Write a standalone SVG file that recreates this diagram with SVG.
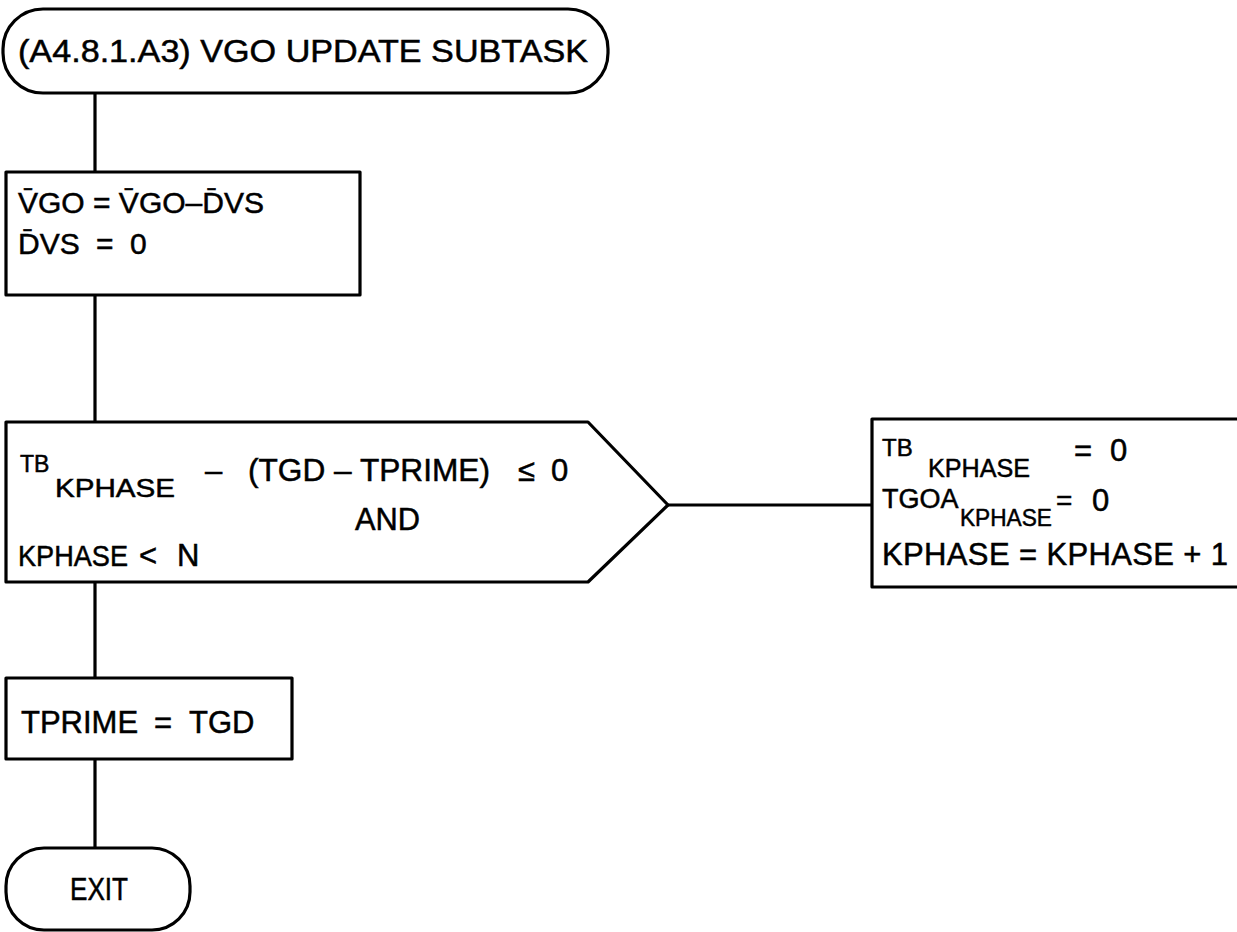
<svg xmlns="http://www.w3.org/2000/svg" width="1237" height="932" viewBox="0 0 1237 932">
<style>
.s{fill:none;stroke:#000;stroke-width:3.2;stroke-linejoin:round}
.t{font-family:"Liberation Sans",Arial,sans-serif;font-size:31px;fill:#000;stroke:#000;stroke-width:0.5}
.sub{font-size:26px}
</style>
<rect width="1237" height="932" fill="#fff"/>
<g id="connectors">
<path class="s" d="M95 93V172M95 295V422M95 582V678M95 759V848M668 505H872"/>
</g>
<g id="start">
<rect class="s" x="3" y="9" width="605" height="84" rx="40"/>
<text class="t" x="18" y="62" textLength="570" lengthAdjust="spacingAndGlyphs">(A4.8.1.A3)  VGO UPDATE SUBTASK</text>
</g>
<g id="box1">
<rect class="s" x="6" y="172" width="354" height="123"/>
<text class="t" x="18" y="213" style="font-size:30px">V̄GO = V̄GO–D̄VS</text>
<text class="t" x="18" y="254" style="font-size:30px">D̄VS</text>
<text class="t" x="96" y="254" style="font-size:30px">=</text>
<text class="t" x="130" y="254" style="font-size:30px">0</text>
</g>
<g id="decision">
<polygon class="s" points="6,422 588,422 668,505 588,582 6,582"/>
<text class="t" x="20" y="472" style="font-size:23px">TB</text>
<text class="t sub" x="55" y="497" textLength="120" lengthAdjust="spacingAndGlyphs">KPHASE</text>
<text class="t" x="205" y="481">–</text>
<text class="t" x="248" y="481" textLength="242" lengthAdjust="spacingAndGlyphs">(TGD – TPRIME)</text>
<text class="t" x="518" y="481">≤</text>
<text class="t" x="551" y="481">0</text>
<text class="t" x="355" y="530" textLength="65" lengthAdjust="spacingAndGlyphs">AND</text>
<text class="t" x="18" y="566" style="font-size:30px" textLength="110" lengthAdjust="spacingAndGlyphs">KPHASE</text>
<text class="t" x="139" y="566">&lt;</text>
<text class="t" x="177" y="566">N</text>
</g>
<g id="box2">
<rect class="s" x="872" y="419" width="370" height="168"/>
<text class="t" x="882" y="456" style="font-size:24px">TB</text>
<text class="t sub" x="928" y="477" textLength="102" lengthAdjust="spacingAndGlyphs">KPHASE</text>
<text class="t" x="1074" y="461">=</text>
<text class="t" x="1110" y="461">0</text>
<text class="t" x="882" y="508" style="font-size:27px">TGOA</text>
<text class="t" x="960" y="526" style="font-size:24px" textLength="92" lengthAdjust="spacingAndGlyphs">KPHASE</text>
<text class="t" x="1056" y="510" style="font-size:28px">=</text>
<text class="t" x="1092" y="511">0</text>
<text class="t" x="882" y="565" textLength="346" lengthAdjust="spacing">KPHASE = KPHASE + 1</text>
</g>
<g id="box3">
<rect class="s" x="6" y="678" width="286" height="81"/>
<text class="t" x="21" y="733">TPRIME</text>
<text class="t" x="154" y="733">=</text>
<text class="t" x="189" y="733">TGD</text>
</g>
<g id="exit">
<rect class="s" x="6" y="848" width="184" height="82" rx="38"/>
<text class="t" x="99" y="900" text-anchor="middle" textLength="58" lengthAdjust="spacingAndGlyphs">EXIT</text>
</g>
</svg>
